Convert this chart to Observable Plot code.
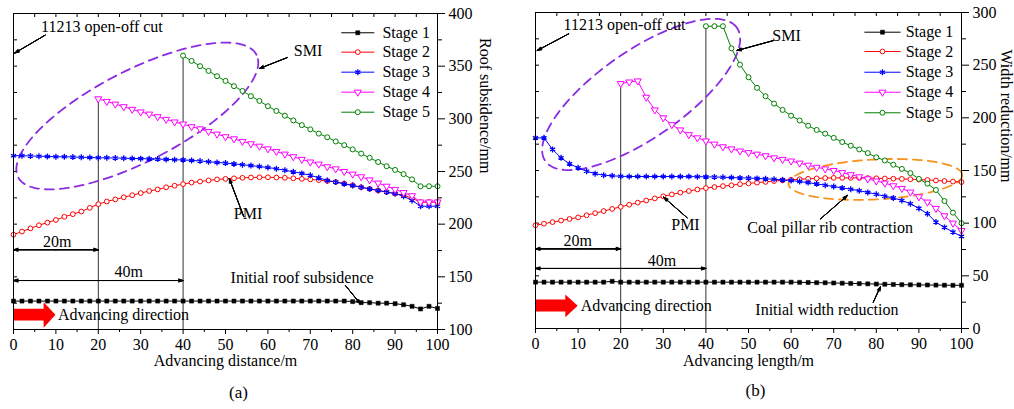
<!DOCTYPE html>
<html><head><meta charset="utf-8">
<script src="https://cdn.jsdelivr.net/npm/d3@7"></script>
<script src="https://cdn.jsdelivr.net/npm/@observablehq/plot@0.6"></script>
<style>
body{margin:0;background:#fff;width:1014px;height:409px;position:relative;overflow:hidden;font-family:"Liberation Serif",serif;}
#a,#b{position:absolute;top:0;}
#a{left:0}#b{left:500px}
svg, svg text{font-family:"Liberation Serif","Times New Roman",serif !important;}
</style></head><body>
<div id="a"></div><div id="b"></div>
<script>
// ---------- data ----------
const X = [0,2,4,6,8,10,12,14,16,18,20,22,24,26,28,30,32,34,36,38,40,42,44,46,48,50,52,54,56,58,60,62,64,66,68,70,72,74,76,78,80,82,84,86,88,90,92,94,96,98,100];
const STAGE_NAMES = ["Stage 1","Stage 2","Stage 3","Stage 4","Stage 5"];
const X_TICKS = [0,10,20,30,40,50,60,70,80,90,100];
const A_YTICKS = [100,150,200,250,300,350,400];
const B_YTICKS = [0,50,100,150,200,250,300];
const _ = null;

// (a) roof subsidence /mm
const A_STAGE1 = [127,127,127,127,127,127,127,127,127,127, 127,127,127,127,127,127,127,127,127,127, 127,127,127,127,127,127,127,127,127,127, 127,127,127,127,127,127,127,127,127,127, 126.5,125.5,125.5,125,125,124.5,123.5,122,119.5,122,120];
const A_STAGE2 = [190,193,196,199,201.5,204,207,209.5,212,215.5, 219,221.5,223.5,225.5,227.5,229.5,231.5,233,235,236.5, 238,239.5,240.5,241.5,242.5,243,243.5,244,244.3,244.5, 244.5,244.3,244,243.5,243,242.5,241.8,241,240,238.5, 237,235,233.5,232,230.5,229,227.5,224.5,221,221,221];
const A_STAGE3 = [265,265,264.7,264.5,264.3,264,264,263.7,263.5,263.3, 263,263,262.8,262.6,262.4,262.2,262,261.8,261.5,261.2, 261,260.5,260,259.3,258.6,258,257.2,256.4,255.6,254.7, 253.8,252.6,251.2,249.7,248.2,246.5,244,241.5,240,238.3, 236.6,235,233.5,232,230.5,229,226.5,222.5,217,217,217];
const A_STAGE4 = [_,_,_,_,_,_,_,_,_,_, 319,316.5,314,311.5,309,306.5,304.5,302,299.5,297, 295,292.5,290.5,288,285.5,283,281,278.5,276.3,274, 271.5,269,266.5,264,261.5,259,257,254.5,252.5,250, 247.5,245,242,239,236,233,230,227,221,221,221];
const A_STAGE5 = [_,_,_,_,_,_,_,_,_,_, _,_,_,_,_,_,_,_,_,_, 360,355,350,345.5,340.5,336,331,326.5,321.5,317, 312,307.5,303,298.5,294,290,286,282.5,278.5,275, 271,267,263,259,255,251.5,247.5,242.5,236,236,236];

// (b) width reduction /mm
const B_STAGE1 = [44,44,44,44,44,44,44,44,44,44.8, 44,44,44,44,44,44,44,44,44,44, 44,44,44,44,44,44,44,44,44,44, 44,43.8,43.7,43.5,43.4,43.2,43,42.8,42.6,42.4, 42.2,42,41.8,41.6,41.5,41.4,41.3,41.2,41.1,41,41];
const B_STAGE2 = [98,99.5,101,102.5,104,105.5,107.5,109.5,111.5,113.5, 115.5,117.5,119.5,121.5,123.5,125.5,127.3,129,130.5,132, 133.3,134.3,135.2,136,137,137.8,138.5,139.2,140,140.6, 141.2,141.7,142.1,142.5,142.8,143,143,143,143,142.8, 142.6,142.4,142.2,142,141.7,141.4,141,140.5,140,139.5,139];
const B_STAGE3 = [181,181,170,162,156.3,152.5,149.3,147,145.5,145, 144.5,144.3,144.3,144.3,144.3,144.3,144.3,144.2,144.2,144.1, 144,143.8,143.6,143.3,143,142.8,142.5,142.1,141.7,141.1, 140.5,139.5,138.5,137.3,136,134.8,133.5,132.2,130.8,129.2, 127.5,125.5,124,121.5,118.4,114,109,101,96,91.5,87.5];
const B_STAGE4 = [_,_,_,_,_,_,_,_,_,_, 232.5,234,235,219.5,207.5,200,193.5,188.5,184,181, 178,175,172.5,170.5,168.5,167,165.5,164,162,160.5, 159,157,155,153,151.5,150,148,146,144,142, 140,138,135.5,133,129.5,125,120,114,107,100,93];
const B_STAGE5 = [_,_,_,_,_,_,_,_,_,_, _,_,_,_,_,_,_,_,_,_, 287,287,287,266,250.5,238.5,228.5,220.5,213.5,207.5, 202,197.5,192.5,188.5,185,181,177,173.5,170,166.5, 162.5,159.5,155.5,151.5,147.5,142,137.5,131.5,121,110,100];

// ---------- styles ----------
const COLORS = ["#000000","#FF0000","#0000FF","#FF00FF","#008000"];
const triDown = { draw(ctx, size) { const s = Math.sqrt(4*size/Math.sqrt(3)); const h = s*Math.sqrt(3)/2; ctx.moveTo(0, 2*h/3); ctx.lineTo(-s/2, -h/3); ctx.lineTo(s/2, -h/3); ctx.closePath(); } };
const SYMBOLS = [
  {symbol: "square", r: 2.3, fill: "#000", stroke: "#000", strokeWidth: 0.5},
  {symbol: "circle", r: 2.4, fill: "#fff", stroke: COLORS[1], strokeWidth: 1},
  {symbol: "asterisk", r: 2.8, stroke: COLORS[2], strokeWidth: 1.3},
  {symbol: triDown, r: 2.6, fill: "#fff", stroke: COLORS[3], strokeWidth: 1},
  {symbol: "circle", r: 2.5, fill: "#fff", stroke: COLORS[4], strokeWidth: 1}
];
const FONT = "Liberation Serif, Times New Roman, serif";

// ---------- panel layouts / annotations ----------
const PANEL_A = {
  el: "#a", width: 500, ml: 13, mr: 63, mt: 13, mb: 80,
  yDomain: [100, 400], yTicks: A_YTICKS,
  stages: [A_STAGE1, A_STAGE2, A_STAGE3, A_STAGE4, A_STAGE5],
  xTitle: "Advancing distance/m", yTitle: "Roof subsidence/mm", tag: "(a)",
  xTitleDy: 36, tagDx: 13, tagDy: 68, yTitleDx: 48, yTitleDy: 2,
  legend: {x1: 77.3, x2: 85.1, xt: 87, ys: [381.7, 363.3, 344.3, 325.3, 306.3]},
  ellipses: [{cx: 29.2, cy: 302.7, a: 134, b: 45.5, angle: 27.2, stroke: "#8A2BE2"}],
  texts: [
    {x: 6.5, y: 387, text: "11213 open-off cut", anchor: "start"},
    {x: 66.1, y: 364.9, text: "SMI", anchor: "start"},
    {x: 55.3, y: 209.8, text: "PMI", anchor: "middle"},
    {x: 10.3, y: 182.9, text: "20m", anchor: "middle"},
    {x: 27.2, y: 154.4, text: "40m", anchor: "middle"},
    {x: 51.2, y: 149, text: "Initial roof subsidence", anchor: "start"},
    {x: 10.5, y: 114, text: "Advancing direction", anchor: "start"}
  ],
  arrows: [
    {x1: 7.5, y1: 379.5, x2: 0.3, y2: 362.5},
    {x1: 64.6, y1: 358.2, x2: 58.0, y2: 347.8},
    {x1: 54.3, y1: 207.2, x2: 50.9, y2: 243.3},
    {x1: 78.3, y1: 141.7, x2: 81.8, y2: 124.4},
    {x1: 10, y1: 175.7, x2: 0, y2: 175.7}, {x1: 10, y1: 175.7, x2: 20, y2: 175.7},
    {x1: 20, y1: 146.5, x2: 0, y2: 146.5}, {x1: 20, y1: 146.5, x2: 40, y2: 146.5}
  ],
  bigArrow: [{x:0,y:119.6},{x:7.1,y:119.6},{x:7.1,y:125.9},{x:9.9,y:114},{x:7.1,y:101.6},{x:7.1,y:108.5},{x:0,y:108.5}]
};
const PANEL_B = {
  el: "#b", width: 514, ml: 35, mr: 53, mt: 12, mb: 81,
  yDomain: [0, 300], yTicks: B_YTICKS,
  stages: [B_STAGE1, B_STAGE2, B_STAGE3, B_STAGE4, B_STAGE5],
  xTitle: "Advancing length/m", yTitle: "Width reduction/mm", tag: "(b)",
  xTitleDy: 37, tagDx: 7, tagDy: 67, yTitleDx: 45, yTitleDy: 12,
  legend: {x1: 77.2, x2: 85.7, xt: 86.9, ys: [281.3, 263, 243.3, 224.3, 204.8]},
  ellipses: [
    {cx: 24.8, cy: 222.2, a: 116.7, b: 43.6, angle: 34.8, stroke: "#8A2BE2"},
    {cx: 79.8, cy: 141.5, a: 87, b: 20, angle: 3, stroke: "#F7931E"}
  ],
  texts: [
    {x: 6.6, y: 288.6, text: "11213 open-off cut", anchor: "start"},
    {x: 55.6, y: 278.2, text: "SMI", anchor: "start"},
    {x: 35.2, y: 98.7, text: "PMI", anchor: "middle"},
    {x: 9.9, y: 83.5, text: "20m", anchor: "middle"},
    {x: 29.7, y: 64.6, text: "40m", anchor: "middle"},
    {x: 49.7, y: 95.6, text: "Coal pillar rib contraction", anchor: "start"},
    {x: 51.6, y: 17.7, text: "Initial width reduction", anchor: "start"},
    {x: 10.6, y: 21.8, text: "Advancing direction", anchor: "start"}
  ],
  arrows: [
    {x1: 7.8, y1: 279.8, x2: 0.4, y2: 263.9},
    {x1: 55.9, y1: 273.4, x2: 47.3, y2: 263.9},
    {x1: 35.6, y1: 105.1, x2: 30.1, y2: 124.6},
    {x1: 66.9, y1: 104.1, x2: 73.2, y2: 126.2},
    {x1: 79.3, y1: 25, x2: 81, y2: 40},
    {x1: 10, y1: 75.6, x2: 0, y2: 75.6}, {x1: 10, y1: 75.6, x2: 20, y2: 75.6},
    {x1: 20, y1: 57, x2: 0, y2: 57}, {x1: 20, y1: 57, x2: 40, y2: 57}
  ],
  bigArrow: [{x:0,y:27.5},{x:7.0,y:27.5},{x:7.0,y:32.3},{x:9.9,y:21.5},{x:7.0,y:10.7},{x:7.0,y:16.1},{x:0,y:16.1}]
};

function ellipsePoints(e, kx, ky) {
  const th = e.angle * Math.PI / 180, pts = [];
  for (let k = 0; k <= 160; k++) {
    const t = k / 160 * 2 * Math.PI;
    const dx = e.a * Math.cos(t) * Math.cos(th) - e.b * Math.sin(t) * Math.sin(th);
    const dy = e.a * Math.cos(t) * Math.sin(th) + e.b * Math.sin(t) * Math.cos(th);
    pts.push({x: e.cx + dx * kx, y: e.cy + dy * ky});
  }
  return pts;
}

function arrowMarks(data) {
  return [40, 28, 16, 6].map(a => Plot.arrow(data, {x1: "x1", y1: "y1", x2: "x2", y2: "y2", stroke: "#000", strokeWidth: 1, headAngle: a, headLength: 7}));
}

function panel(P) {
  const W = P.width, H = 409;
  const pw = W - P.ml - P.mr, ph = H - P.mt - P.mb;
  const kx = 100 / pw, ky = (P.yDomain[1] - P.yDomain[0]) / ph;
  const y0 = P.yDomain[0];
  const tf = {fontFamily: FONT, fill: "#000"};
  const marks = [];
  marks.push(Plot.tickX(d3.range(0, 101, 5), {x: d => d, insetBottom: ph - 4, stroke: "#000"}));
  marks.push(Plot.tickY(d3.range(P.yDomain[0], P.yDomain[1] + 1, 25), {y: d => d, insetRight: pw - 4, stroke: "#000"}));
  marks.push(Plot.axisX({ticks: X_TICKS, tickSize: 5, tickPadding: 4, fontSize: 16, fontFamily: FONT, label: null}));
  marks.push(Plot.axisX({ticks: d3.range(5, 100, 10), tickSize: 3, tickFormat: () => "", label: null}));
  marks.push(Plot.axisY({anchor: "right", ticks: P.yTicks, tickSize: 7, tickPadding: 4, fontSize: 16, fontFamily: FONT, label: null}));
  marks.push(Plot.axisY({anchor: "right", ticks: P.yTicks.slice(0, -1).map(v => v + 25), tickSize: 4, tickFormat: () => "", label: null}));
  const vl = [3, 4].map(i => { const j = P.stages[i].findIndex(v => v != null); return {x: X[j], y1: y0, y2: P.stages[i][j]}; });
  marks.push(Plot.ruleX(vl, {x: "x", y1: "y1", y2: "y2", stroke: "#333", strokeWidth: 1}));
  P.ellipses.forEach(e => marks.push(Plot.line(ellipsePoints(e, kx, ky), {x: "x", y: "y", stroke: e.stroke, strokeWidth: 1.8, strokeDasharray: "9,6"})));
  P.stages.forEach((vals, i) => {
    const rows = X.map((x, j) => ({x, y: vals[j]})).filter(d => d.y != null);
    marks.push(Plot.line(rows, {x: "x", y: "y", stroke: COLORS[i], strokeWidth: 1}));
    marks.push(Plot.dot(rows, {x: "x", y: "y", ...SYMBOLS[i]}));
  });
  marks.push(Plot.line(P.bigArrow, {x: "x", y: "y", fill: "#FF0000", stroke: "none"}));
  marks.push(...arrowMarks(P.arrows));
  P.texts.forEach(t => marks.push(Plot.text([t], {x: "x", y: "y", text: "text", textAnchor: t.anchor, fontSize: 16, ...tf})));
  const L = P.legend;
  STAGE_NAMES.forEach((name, i) => {
    const row = [{x1: L.x1, x2: L.x2, xm: (L.x1 + L.x2) / 2, xt: L.xt, y: L.ys[i], name}];
    marks.push(Plot.link(row, {x1: "x1", x2: "x2", y1: "y", y2: "y", stroke: COLORS[i], strokeWidth: 1}));
    marks.push(Plot.dot(row, {x: "xm", y: "y", ...SYMBOLS[i]}));
    marks.push(Plot.text(row, {x: "xt", y: "y", text: "name", textAnchor: "start", fontSize: 16, ...tf}));
  });
  marks.push(Plot.text([P.xTitle], {frameAnchor: "bottom", text: d => d, dy: P.xTitleDy, fontSize: 16, ...tf}));
  marks.push(Plot.text([P.tag], {frameAnchor: "bottom", text: d => d, dy: P.tagDy, dx: P.tagDx, fontSize: 17, ...tf}));
  marks.push(Plot.text([P.yTitle], {frameAnchor: "right", text: d => d, dx: P.yTitleDx, dy: P.yTitleDy, rotate: 90, fontSize: 16, ...tf}));
  marks.push(Plot.frame({stroke: "#000", strokeWidth: 1}));

  const chart = Plot.plot({
    width: W, height: H,
    marginLeft: P.ml, marginRight: P.mr, marginTop: P.mt, marginBottom: P.mb,
    x: {domain: [0, 100]},
    y: {domain: P.yDomain},
    style: {fontFamily: FONT, fontSize: "16px", background: "white", color: "black", overflow: "visible"},
    marks
  });
  chart.setAttribute("font-family", FONT);
  chart.style.fontFamily = FONT;
  document.querySelector(P.el).appendChild(chart);
}
panel(PANEL_A);
panel(PANEL_B);
</script>
</body></html>
